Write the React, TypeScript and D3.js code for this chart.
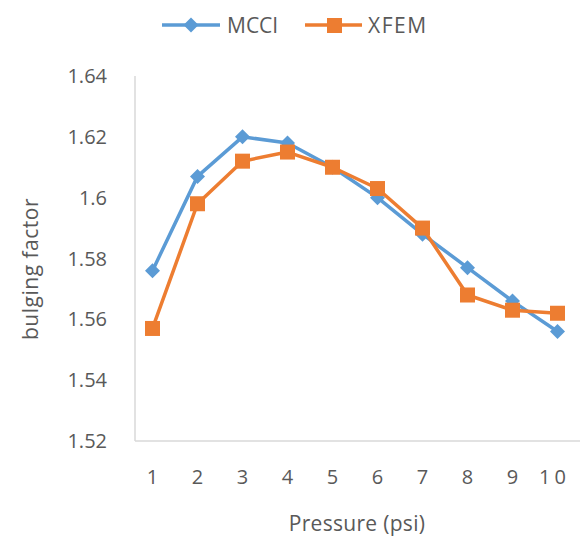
import React from "react";
import * as d3 from "d3";

const categories = ["1", "2", "3", "4", "5", "6", "7", "8", "9", "10"];
const mcci = [1.576, 1.607, 1.62, 1.618, 1.61, 1.6, 1.588, 1.577, 1.566, 1.556];
const xfem = [1.557, 1.598, 1.612, 1.615, 1.61, 1.603, 1.59, 1.568, 1.563, 1.562];
const yTicks = [1.52, 1.54, 1.56, 1.58, 1.6, 1.62, 1.64];

const W = 582, H = 537;
const left = 135, right = 580, top = 76, bottom = 441;
const BLUE = "#5B9BD5", ORANGE = "#ED7D31";
const TXT = "#595959";
const FONT = "'Open Sans', 'Liberation Sans', sans-serif";
const diamond = "M0,-7.5L7.5,0L0,7.5L-7.5,0Z";

export default function App() {
  const x = d3.scaleBand<string>().domain(categories).range([left - 5, right]);
  const y = d3.scaleLinear().domain([1.52, 1.64]).range([bottom, top]);
  const cx = (i: number) => (x(categories[i]) as number) + x.bandwidth() / 2;
  const line = d3.line<number>().x((_, i) => cx(i)).y((d) => y(d));
  return (
    <svg width={W} height={H} style={{ position: "absolute", left: 0, top: 0, background: "#fff" }} fontFamily={FONT}>
      <line x1={left} x2={left} y1={top} y2={bottom} stroke="#D9D9D9" strokeWidth={1.5} />
      <line x1={left} x2={right} y1={bottom} y2={bottom} stroke="#D9D9D9" strokeWidth={1.5} />
      {yTicks.map((t) => (
        <text key={t} x={107} y={y(t)} dy="0.35em" textAnchor="end" fontSize={20} fill={TXT}>
          {d3.format("")(+t.toFixed(2))}
        </text>
      ))}
      {categories.map((c, i) => (
        <text key={c} x={cx(i) - (c.length > 1 ? 3 : 0)} y={484} textAnchor="middle" fontSize={20} fill={TXT} letterSpacing={c.length > 1 ? 4 : 0}>
          {c}
        </text>
      ))}
      <text x={357} y={531} textAnchor="middle" fontSize={21} fill={TXT} letterSpacing={0.3}>Pressure (psi)</text>
      <text transform={`translate(38,269) rotate(-90)`} textAnchor="middle" fontSize={21} fill={TXT} letterSpacing={0.5}>bulging factor</text>
      <path d={line(mcci)!} fill="none" stroke={BLUE} strokeWidth={3.5} strokeLinejoin="round" />
      {mcci.map((v, i) => (
        <path key={i} d={diamond} transform={`translate(${cx(i)},${y(v)})`} fill={BLUE} />
      ))}
      <path d={line(xfem)!} fill="none" stroke={ORANGE} strokeWidth={3.5} strokeLinejoin="round" />
      {xfem.map((v, i) => (
        <rect key={i} x={cx(i) - 7.5} y={y(v) - 7.5} width={15} height={15} fill={ORANGE} />
      ))}
      <g>
        <line x1={162} x2={220} y1={25} y2={25} stroke={BLUE} strokeWidth={3.5} />
        <path d={diamond} transform="translate(191,25)" fill={BLUE} />
        <text x={227} y={26} dy="0.35em" fontSize={21} fill={TXT}>MCCI</text>
        <line x1={305} x2={362} y1={25} y2={25} stroke={ORANGE} strokeWidth={3.5} />
        <rect x={327} y={18} width={15} height={15} fill={ORANGE} />
        <text x={368} y={26} dy="0.35em" fontSize={21} fill={TXT} letterSpacing={1.5}>XFEM</text>
      </g>
    </svg>
  );
}
